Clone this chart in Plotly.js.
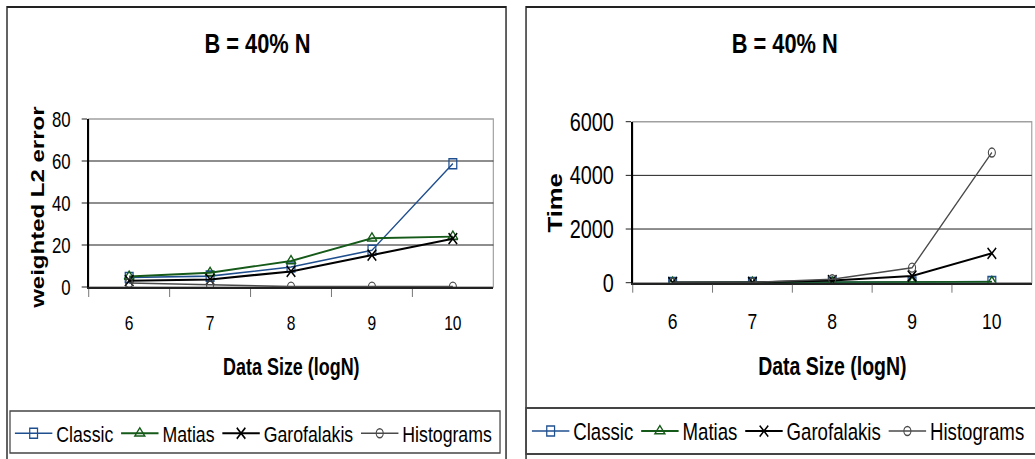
<!DOCTYPE html>
<html>
<head>
<meta charset="utf-8">
<script src="https://cdn.plot.ly/plotly-3.0.1.min.js"></script>
<style>
  html, body { margin: 0; padding: 0; background: #fff; overflow: hidden; }
  #wrap { width: 1035px; height: 459px; overflow: hidden; position: relative; }
  /* the charts are laid out wide and squeezed horizontally to a condensed look */
  #chart { position: absolute; left: 0; top: 0; transform-origin: 0 0; }
</style>
</head>
<body>
<div id="wrap"><div id="chart"></div></div>
<script>
// Data size categories (log N)
const sizes = ['6', '7', '8', '9', '10'];
const seriesNames = ['Classic', 'Matias', 'Garofalakis', 'Histograms'];

// Weighted L2 error per method
const errClassic      = [4.5, 5.2, 9.5, 17.5, 58.7];
const errMatias       = [5.0, 6.8, 12.4, 23.2, 24.0];
const errGarofalakis  = [3.0, 3.6, 7.4, 15.2, 23.0];
const errHistograms   = [1.9, 0.9, 0.2, 0.2, 0.2];

// Running time per method
const timeClassic     = [2, 4, 12, 25, 40];
const timeMatias      = [1, 3, 8, 15, 30];
const timeGarofalakis = [3, 8, 80, 250, 1095];
const timeHistograms  = [4, 12, 130, 560, 4850];

const errTicks  = [0, 20, 40, 60, 80];
const timeTicks = [0, 2000, 4000, 6000];

const chartTitle = 'B = 40% N';
const xTitle = 'Data Size (logN)';
const errTitle = 'weighted L2 error';
const timeTitle = 'Time';

const SQUEEZE = 0.78;
const W = 1035, H = 459;
const W0 = W / SQUEEZE;          // layout width before the horizontal squeeze
const px = v => v / W;           // screen x -> paper fraction
const py = v => 1 - v / H;       // screen y -> paper fraction

const chartDiv = document.getElementById('chart');
chartDiv.style.width = W0 + 'px';
chartDiv.style.height = H + 'px';
chartDiv.style.transform = 'scaleX(' + SQUEEZE + ')';

const FONT = '"Liberation Sans", Arial, sans-serif';

const looks = [
  { color: '#1f4f8f', symbol: 'square-open',      size: 10, mw: 1.6, lw: 1.6 },
  { color: '#155a18', symbol: 'triangle-up-open', size: 11, mw: 1.6, lw: 1.9 },
  { color: '#000000', symbol: 'x-thin-open',      size: 11, mw: 1.8, lw: 2.1 },
  { color: '#4a4a4a', symbol: 'circle-open',      size: 9,  mw: 1.4, lw: 1.6 }
];

function makeTraces(values, xa, ya, legendId) {
  return values.map((vals, i) => ({
    type: 'scatter',
    mode: 'lines+markers',
    name: seriesNames[i],
    x: sizes,
    y: vals,
    xaxis: xa,
    yaxis: ya,
    legend: legendId,
    line: { color: looks[i].color, width: looks[i].lw },
    marker: {
      symbol: looks[i].symbol,
      size: looks[i].size,
      color: looks[i].color,
      line: { color: looks[i].color, width: looks[i].mw }
    },
    hoverinfo: 'x+y+name'
  }));
}

const traces = [
  ...makeTraces([errClassic, errMatias, errGarofalakis, errHistograms], 'x', 'y', 'legend'),
  ...makeTraces([timeClassic, timeMatias, timeGarofalakis, timeHistograms], 'x2', 'y2', 'legend2')
];

function catAxis(domain, anchor, tickSize) {
  return {
    type: 'category',
    domain: domain,
    anchor: anchor,
    range: [-0.5, 4.5],
    tickson: 'boundaries',
    ticks: 'outside',
    ticklen: 8,
    tickwidth: 1.3,
    tickcolor: '#666',
    showline: true,
    linecolor: '#222',
    linewidth: 2,
    showgrid: false,
    zeroline: false,
    ticklabelstandoff: 17,
    tickfont: { family: FONT, size: tickSize, color: '#000' },
    fixedrange: true
  };
}

function valAxis(domain, anchor, ticks, tickSize) {
  return {
    domain: domain,
    anchor: anchor,
    range: [ticks[0], ticks[ticks.length - 1]],
    tickvals: ticks,
    ticktext: ticks.map(String),
    ticks: 'outside',
    ticklen: 7,
    tickwidth: 1,
    tickcolor: '#000',
    showline: true,
    linecolor: '#000',
    linewidth: 2,
    showgrid: true,
    gridcolor: '#000',
    gridwidth: 1,
    zeroline: false,
    ticklabelstandoff: 10,
    tickfont: { family: FONT, size: tickSize, color: '#000' },
    fixedrange: true
  };
}

// Plot areas in screen pixels
const L = { x0: 88.7, x1: 493.3, y0: 119, y1: 287 };
const R = { x0: 632.7, x1: 1031.7, y0: 121.7, y1: 282.7 };

function rectPx(x0, y0, x1, y1, color, width) {
  return {
    type: 'rect', xref: 'paper', yref: 'paper',
    x0: px(x0), x1: px(x1), y0: py(y1), y1: py(y0),
    line: { color: color, width: width }, fillcolor: 'rgba(0,0,0,0)', layer: 'below'
  };
}

function plotBorder(xr, yr) {
  return {
    type: 'rect', xref: xr + ' domain', yref: yr + ' domain',
    x0: 0, x1: 1, y0: 0, y1: 1,
    line: { color: '#a0a0a0', width: 1.5 }, fillcolor: 'rgba(0,0,0,0)', layer: 'below'
  };
}

function textAt(text, x, y, size, angle) {
  return {
    text: text, xref: 'paper', yref: 'paper',
    x: px(x), y: py(y), xanchor: 'center', yanchor: 'middle',
    textangle: angle || 0,
    showarrow: false,
    font: { family: FONT, size: size, color: '#000', weight: 'bold' }
  };
}

const layout = {
  width: W0, height: H,
  margin: { l: 0, r: 0, t: 0, b: 0, pad: 0, autoexpand: false },
  paper_bgcolor: '#fff',
  plot_bgcolor: '#fff',
  showlegend: true,
  xaxis:  catAxis([px(L.x0), px(L.x1)], 'y', 20),
  yaxis:  valAxis([py(L.y1), py(L.y0)], 'x', errTicks, 21.5),
  xaxis2: catAxis([px(R.x0), px(R.x1)], 'y2', 22.5),
  yaxis2: valAxis([py(R.y1), py(R.y0)], 'x2', timeTicks, 25.5),
  legend: {
    orientation: 'h', x: px(11), y: py(412), xanchor: 'left', yanchor: 'top',
    itemwidth: 48,
    font: { family: FONT, size: 22.7, color: '#000' },
    bgcolor: 'rgba(0,0,0,0)', borderwidth: 0, itemclick: false, itemdoubleclick: false
  },
  legend2: {
    orientation: 'h', x: px(528), y: py(409), xanchor: 'left', yanchor: 'top',
    itemwidth: 48,
    font: { family: FONT, size: 23.9, color: '#000' },
    bgcolor: 'rgba(0,0,0,0)', borderwidth: 0, itemclick: false, itemdoubleclick: false
  },
  shapes: [
    // chart frames
    rectPx(7, 7, 506, 480, '#222', 1.8),
    rectPx(526, 7, 1050, 480, '#222', 1.8),
    // legend boxes
    rectPx(10, 411, 500, 453, '#444', 1.6),
    rectPx(526, 408, 1050, 454, '#444', 1.8),
    // plot area borders
    plotBorder('x', 'y'),
    plotBorder('x2', 'y2')
  ],
  annotations: [
    textAt(chartTitle, 257.5, 43, 28),
    textAt(chartTitle, 785, 43, 28),
    textAt(xTitle, 291.7, 366.7, 23),
    textAt(xTitle, 832, 366, 25),
    textAt(errTitle, 37.7, 207.5, 24, -90),
    textAt(timeTitle, 555, 203, 25.7, -90)
  ]
};

Plotly.newPlot(chartDiv, traces, layout, { displayModeBar: false, responsive: false });
</script>
</body>
</html>
